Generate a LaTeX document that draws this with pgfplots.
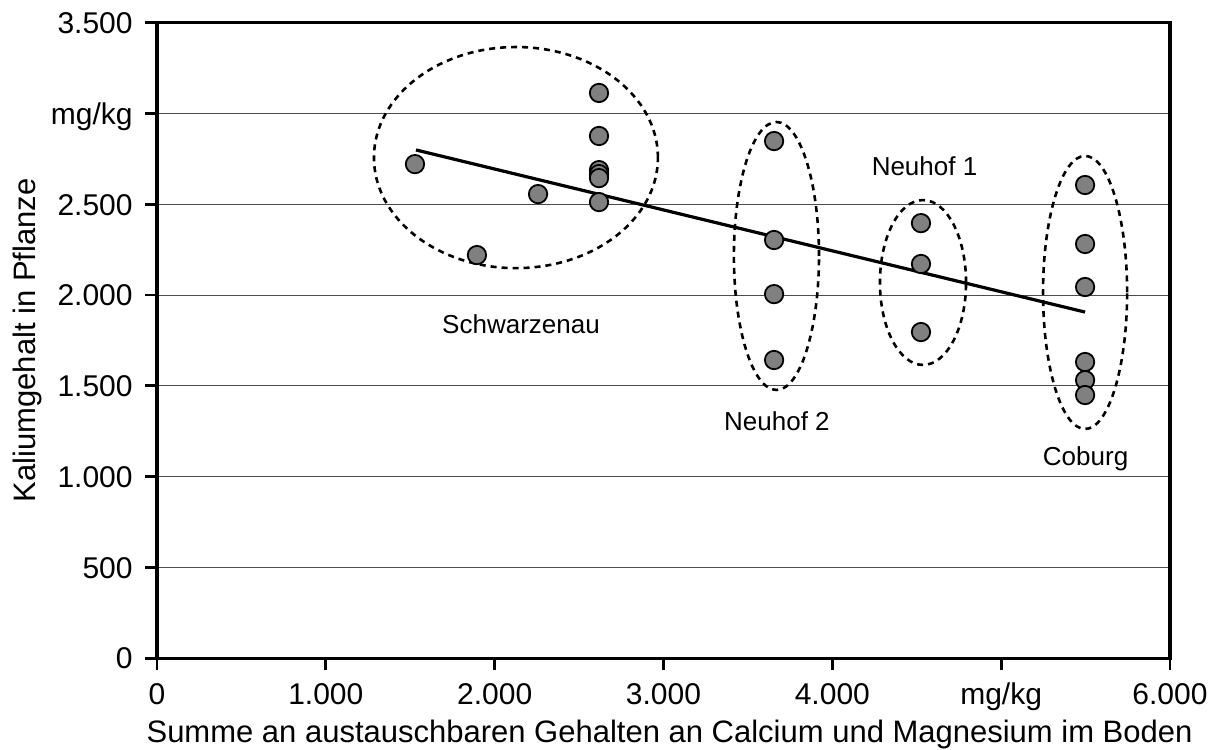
\documentclass[border=0pt]{standalone}
\usepackage{fontspec}
\setmainfont{Liberation Sans}
\usepackage{pgfplots}
\pgfplotsset{compat=1.18}

\begin{document}
\begin{tikzpicture}
\begin{axis}[
    scale only axis,
    width=506.5pt, height=317.7pt,
    xmin=0, xmax=6000, ymin=0, ymax=3500,
    axis line style={line width=1.6pt},
    xtick={0,1000,2000,3000,4000,5000,6000},
    xticklabels={0,1.000,2.000,3.000,4.000,mg/kg,6.000},
    ytick={0,500,1000,1500,2000,2500,3000,3500},
    yticklabels={0,500,1.000,1.500,2.000,2.500,mg/kg,3.500},
    xtick pos=left, ytick pos=left,
    tick align=outside,
    major tick length=6pt,
    tick style={line width=1.4pt, black},
    ymajorgrids,
    grid style={line width=0.5pt, black!70},
    /pgf/number format/assume math mode=true,
    ticklabel style={font=\fontsize{15}{18}\selectfont, inner sep=0pt},
    xticklabel style={anchor=base, yshift=-17pt},
    yticklabel style={anchor=base east, yshift=-5.4pt, xshift=-6pt},
    xlabel={Summe an austauschbaren Gehalten an Calcium und Magnesium im Boden},
    ylabel={Kaliumgehalt in Pflanze},
    label style={font=\fontsize{15.5}{18}\selectfont, inner sep=0pt},
    xlabel style={at={(axis description cs:0.506,-0.1322)}, anchor=base},
    ylabel style={at={(axis description cs:-0.1421,0.5)}, anchor=north},
    clip=false,
]
% Regressionsgerade
\addplot[black, line width=1.6pt] coordinates {(1534,2799) (5497,1906)};

% Messwerte
\addplot[only marks, mark=*, mark size=4.6pt,
    mark options={fill=black!50, draw=black, line width=0.9pt}]
coordinates {
    (1528,2721) (1895,2220) (2257,2556)
    (2618,3113) (2618,2876) (2618,2688) (2618,2666) (2618,2644) (2618,2512)
    (3655,2848) (3655,2303) (3655,2005) (3655,1642)
    (4525,2396) (4525,2171) (4525,1796)
    (5497,2606) (5497,2281) (5497,2044) (5497,1631) (5497,1531) (5497,1449)
};

% Gruppen
\draw[line width=1.3pt, dash pattern=on 3pt off 2.5pt] (axis cs:2126,2757) ellipse [x radius=841, y radius=609];
\draw[line width=1.3pt, dash pattern=on 3pt off 2.5pt] (axis cs:3669,2215) ellipse [x radius=252, y radius=738];
\draw[line width=1.3pt, dash pattern=on 3pt off 2.5pt] (axis cs:4537,2069) ellipse [x radius=255, y radius=454];
\draw[line width=1.3pt, dash pattern=on 3pt off 2.5pt] (axis cs:5497,2014) ellipse [x radius=249, y radius=752];

\node[anchor=base, font=\fontsize{13}{15}\selectfont] at (axis cs:2156,1790) {Schwarzenau};
\node[anchor=base, font=\fontsize{13}{15}\selectfont] at (axis cs:3672,1256) {Neuhof 2};
\node[anchor=base, font=\fontsize{13}{15}\selectfont] at (axis cs:4546,2661) {Neuhof 1};
\node[anchor=base, font=\fontsize{13}{15}\selectfont] at (axis cs:5500,1063) {Coburg};
\end{axis}
\pgfresetboundingbox
\path[use as bounding box] ([shift={(-78.5pt,-45.5pt)}]current axis.south west)
    rectangle ([shift={(24.5pt,11.35pt)}]current axis.north east);
\end{tikzpicture}
\end{document}
